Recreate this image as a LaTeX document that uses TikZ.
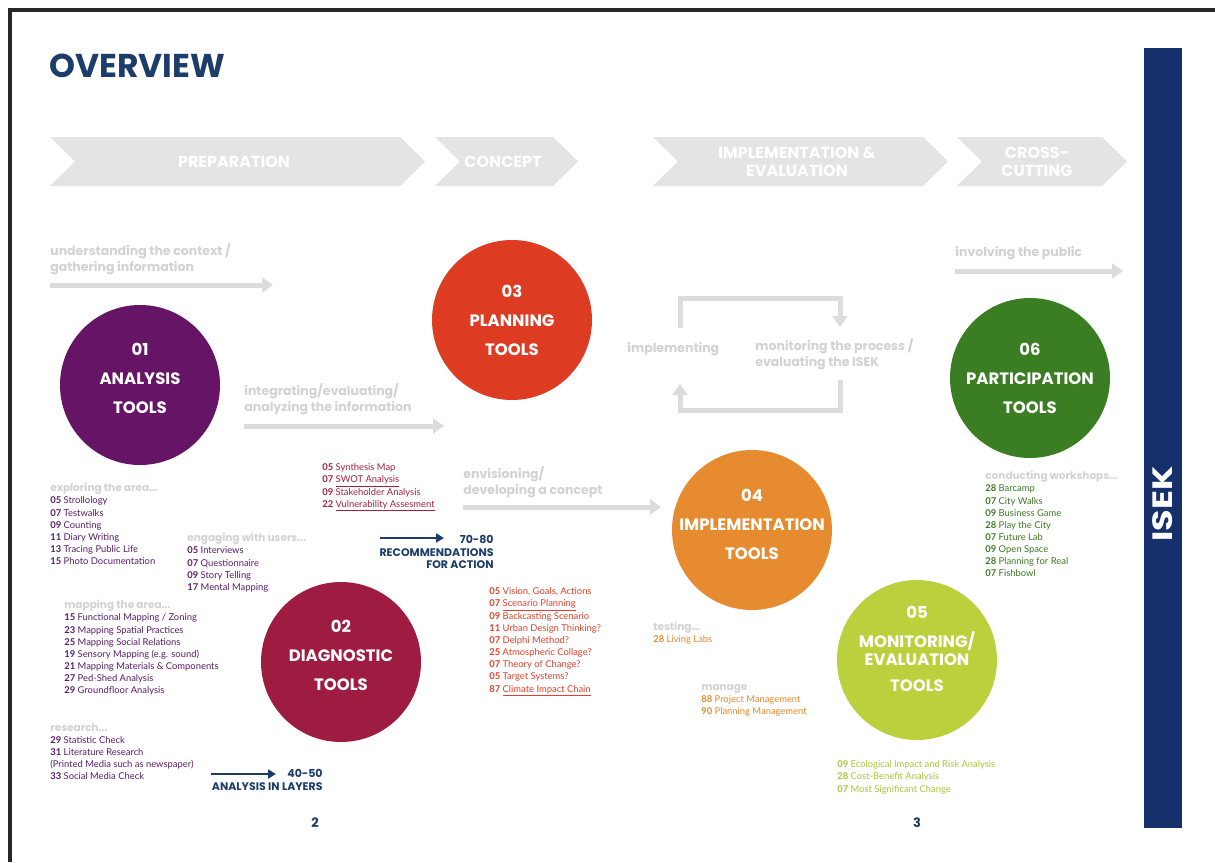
\documentclass[tikz,border=0pt]{standalone}
\usepackage{fontspec}
\setmainfont{Lato}
\newfontfamily\headfont{Poppins}
\usetikzlibrary{arrows.meta}

\definecolor{navy}{HTML}{1C3D6A}
\definecolor{barblue}{HTML}{15306B}
\definecolor{framegray}{HTML}{262626}
\definecolor{phasegray}{HTML}{E4E4E4}
\definecolor{hintgray}{HTML}{D2D2D2}
\definecolor{flowgray}{HTML}{DCDCDC}
\definecolor{purpleA}{HTML}{661466}
\definecolor{purpleL}{HTML}{5A1D6B}
\definecolor{crimsonA}{HTML}{9E1C42}
\definecolor{crimsonL}{HTML}{A3223F}
\definecolor{redA}{HTML}{DD3B22}
\definecolor{redL}{HTML}{E0412B}
\definecolor{orangeA}{HTML}{E68B30}
\definecolor{orangeL}{HTML}{E8892E}
\definecolor{limeA}{HTML}{BCCF3C}
\definecolor{limeL}{HTML}{ABC53A}
\definecolor{greenA}{HTML}{3A7D22}
\definecolor{greenL}{HTML}{3C7A22}

\newcommand{\itm}[2]{\textbf{#1} #2}
\newcommand{\hd}[1]{{\headfont\bfseries\fontsize{10.5}{12}\selectfont\color{hintgray}#1}}

\tikzset{
  every picture/.style={line width=0.75pt},
  tool/.style={circle, minimum size=160pt, inner sep=0pt},
  tooltext/.style={text=white, align=center, inner sep=0pt,
    font=\headfont\bfseries\fontsize{16.5}{29}\selectfont},
  phasetext/.style={text=white, align=center, inner sep=0pt,
    font=\headfont\bfseries\fontsize{16}{18}\selectfont},
  hint/.style={text=hintgray, align=left, anchor=north west, inner sep=0pt,
    font=\headfont\bfseries\fontsize{12.5}{16}\selectfont},
  lst/.style={align=left, anchor=north west, inner sep=0pt,
    font=\fontsize{9.4}{12.15}\selectfont},
  navytext/.style={text=navy, align=right, anchor=north east, inner sep=0pt,
    font=\headfont\bfseries\fontsize{11}{12.5}\selectfont},
  flow/.style={draw=flowgray, line width=5pt, -{Triangle[width=15pt,length=11pt]}},
  navyarrow/.style={draw=navy, line width=2.5pt, -{Triangle[width=9pt,length=8pt]}}
}

\begin{document}
\begin{tikzpicture}[x=1pt,y=1pt,yscale=-1]
\useasboundingbox (0,0) rectangle (1215,862);
\fill[white] (0,0) rectangle (1215,862);

%frame
\draw[framegray, line width=4pt] (10,862) -- (10,10) -- (1215,10);

% Title
\node[anchor=west, inner sep=0pt, text=navy, font=\headfont\bfseries\fontsize{33}{34}\selectfont] (title) at (49,66) {OVERVIEW};

%Phase chevrons
\fill[phasegray] (50,137) -- (400,137) -- (425,161.5) -- (400,186) -- (50,186) -- (75,161.5) -- cycle;
\fill[phasegray] (435,137) -- (553,137) -- (578,161.5) -- (553,186) -- (435,186) -- (460,161.5) -- cycle;
\fill[phasegray] (653,137) -- (923,137) -- (948,161.5) -- (923,186) -- (653,186) -- (678,161.5) -- cycle;
\fill[phasegray] (957,137) -- (1102,137) -- (1127,161.5) -- (1102,186) -- (957,186) -- (982,161.5) -- cycle;
\node[phasetext] (prep) at (234,161.5) {PREPARATION};
\node[phasetext] (conc) at (503,161.5) {CONCEPT};
\node[phasetext] (impl) at (797,161.5) {IMPLEMENTATION \&\\EVALUATION};
\node[phasetext] (cross) at (1037,161.5) {CROSS-\\CUTTING};

% Flow labels and arrows
\node[hint] (ctx) at (50,243) {understanding the context /\\gathering information};
\coordinate (ctxA) at (50,285);
\coordinate (ctxB) at (273,285);
\draw[flow] (ctxA) -- (ctxB);

\node[hint] (integ) at (244,383) {integrating/evaluating/\\analyzing the information};
\coordinate (integA) at (244,426);
\coordinate (integB) at (444,426);
\draw[flow] (integA) -- (integB);

\node[hint] (envis) at (463,466) {envisioning/\\developing a concept};
\coordinate (envisA) at (463,507);
\coordinate (envisB) at (661,507);
\draw[flow] (envisA) -- (envisB);

\node[hint] (public) at (955,246) {involving the public};
\coordinate (publicA) at (955,271);
\coordinate (publicB) at (1123,271);
\draw[flow] (publicA) -- (publicB);

% implementation cycle
\node[hint] (implementing) at (627,342) {implementing};
\node[hint] (monit) at (755,338) {monitoring the process /\\evaluating the ISEK};
\coordinate (cyc1) at (680,328);
\coordinate (cyc2) at (840,327);
\coordinate (cyc3) at (840,380);
\coordinate (cyc4) at (680,384);
\draw[flow] (cyc1) |- (760,298) -| (cyc2);
\draw[flow] (cyc3) |- (760,410) -| (cyc4);

% Tool circles
\node[tool, fill=purpleA] (analysis) at (140,385) {};
\node[tool, fill=redA] (planning) at (512,320) {};
\node[tool, fill=greenA] (particip) at (1030,378) {};
\node[tool, fill=orangeA] (implem) at (752,530) {};
\node[tool, fill=limeA] (monitor) at (917,660) {};
\node[tool, fill=crimsonA] (diagn) at (341,662) {};
\node[tooltext] (analysisT) at (140,378) {01\\ANALYSIS\\TOOLS};
\node[tooltext] (planningT) at (512,320) {03\\PLANNING\\TOOLS};
\node[tooltext] (participT) at (1030,378) {06\\PARTICIPATION\\TOOLS};
\node[tooltext] (implemT) at (752,524) {04\\IMPLEMENTATION\\TOOLS};
\node[tooltext] (monitorT) at (917,648.5) {05\\MONITORING/\\[-11pt]EVALUATION\\[-3pt]TOOLS};
\node[tooltext] (diagnT) at (341,655) {02\\DIAGNOSTIC\\TOOLS};

% Analysis lists
\node[lst, text=purpleL] (explore) at (50,483) {\hd{exploring the area...}\\
\itm{05}{Strollology}\\
\itm{07}{Testwalks}\\
\itm{09}{Counting}\\
\itm{11}{Diary Writing}\\
\itm{13}{Tracing Public Life}\\
\itm{15}{Photo Documentation}};

\node[lst, text=purpleL] (engage) at (187,533) {\hd{engaging with users...}\\
\itm{05}{Interviews}\\
\itm{07}{Questionnaire}\\
\itm{09}{Story Telling}\\
\itm{17}{Mental Mapping}};

\node[lst, text=purpleL] (mapping) at (64,600) {\hd{mapping the area...}\\
\itm{15}{Functional Mapping / Zoning}\\
\itm{23}{Mapping Spatial Practices}\\
\itm{25}{Mapping Social Relations}\\
\itm{19}{Sensory Mapping (e.g. sound)}\\
\itm{21}{Mapping Materials \& Components}\\
\itm{27}{Ped-Shed Analysis}\\
\itm{29}{Groundfloor Analysis}};

\node[lst, text=purpleL] (research) at (50,723) {\hd{research...}\\
\itm{29}{Statistic Check}\\
\itm{31}{Literature Research}\\
(Printed Media such as newspaper)\\
\itm{33}{Social Media Check}};

\coordinate (layersA) at (211,774);
\coordinate (layersB) at (276,774);
\draw[navyarrow] (layersA) -- (layersB);
\node[navytext] (layers) at (323,769) {40-50\\ANALYSIS IN LAYERS};

% Planning list
\node[lst, text=crimsonL] (plan) at (322,463.5) {\itm{05}{Synthesis Map}\\
\itm{07}{\underline{SWOT Analysis}}\\
\itm{09}{Stakeholder Analysis}\\
\itm{22}{\underline{Vulnerability Assesment}}};

\coordinate (recoA) at (380,538);
\coordinate (recoB) at (444,538);
\draw[navyarrow] (recoA) -- (recoB);
\node[navytext] (reco) at (494,535) {70-80\\RECOMMENDATIONS\\FOR ACTION};

% Concept list
\node[lst, text=redL] (concept) at (489,587.5) {\itm{05}{Vision, Goals, Actions}\\
\itm{07}{\underline{Scenario Planning}}\\
\itm{09}{Backcasting Scenario}\\
\itm{11}{Urban Design Thinking?}\\
\itm{07}{Delphi Method?}\\
\itm{25}{Atmospheric Collage?}\\
\itm{07}{Theory of Change?}\\
\itm{05}{Target Systems?}\\
\itm{87}{\underline{Climate Impact Chain}}};

% Implementation lists
\node[lst, text=orangeL] (testing) at (653,622) {\hd{testing...}\\
\itm{28}{Living Labs}};

\node[lst, text=orangeL] (manage) at (701,684) {\hd{manage}\\
\itm{88}{Project Management}\\
\itm{90}{Planning Management}};

% Monitoring list
\node[lst, text=limeL] (evalu) at (837,760.5) {\itm{09}{Ecological Impact and Risk Analysis}\\
\itm{28}{Cost-Benefit Analysis}\\
\itm{07}{Most Significant Change}};

% Participation list
\node[lst, text=greenL] (workshops) at (985,471) {\hd{conducting workshops...}\\
\itm{28}{Barcamp}\\
\itm{07}{City Walks}\\
\itm{09}{Business Game}\\
\itm{28}{Play the City}\\
\itm{07}{Future Lab}\\
\itm{09}{Open Space}\\
\itm{28}{Planning for Real}\\
\itm{07}{Fishbowl}};

% Page numbers
\node[text=navy, font=\headfont\bfseries\fontsize{13}{14}\selectfont, inner sep=0pt] (pageA) at (315,823) {2};
\node[text=navy, font=\headfont\bfseries\fontsize{13}{14}\selectfont, inner sep=0pt] (pageB) at (917,823) {3};

% ISEK bar
\fill[barblue] (1144,48) rectangle (1182,828);
\node[rotate=90, xscale=1.25, text=white, inner sep=0pt, font=\headfont\bfseries\fontsize{28}{30}\selectfont] (isek) at (1163,504) {ISEK};

\end{tikzpicture}
\end{document}
